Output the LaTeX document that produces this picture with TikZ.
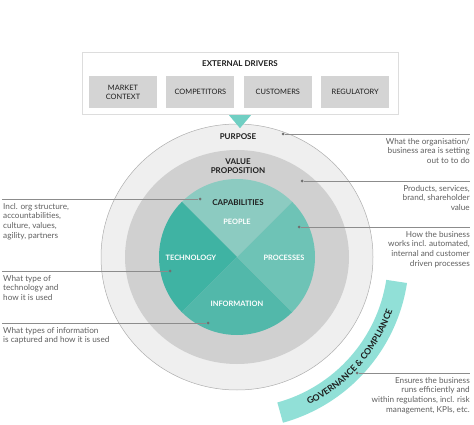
\documentclass[tikz,border=0pt]{standalone}
\usepackage{fontspec}
\setmainfont{Lato}
\definecolor{ringlight}{RGB}{239,239,239}
\definecolor{ringgrey}{RGB}{208,208,208}
\definecolor{boxgrey}{RGB}{212,212,212}
\definecolor{peopleteal}{RGB}{140,203,193}
\definecolor{processteal}{RGB}{110,195,182}
\definecolor{techteal}{RGB}{63,179,163}
\definecolor{infoteal}{RGB}{82,184,170}
\definecolor{govteal}{RGB}{145,224,215}
\definecolor{arrowteal}{RGB}{112,207,195}
\definecolor{leadgrey}{RGB}{140,140,140}
\definecolor{notegrey}{RGB}{95,95,95}
\definecolor{inkdark}{RGB}{30,30,30}
\usepackage{tikz}
\usetikzlibrary{positioning, calc, decorations.text}

\begin{document}
\begin{tikzpicture}[x=1pt, y=1pt,
  driverbox/.style={fill=boxgrey, minimum width=68pt, minimum height=32pt, inner sep=0pt, align=center, font=\fontsize{7.4}{9}\selectfont, text=inkdark},
  ringlabel/.style={font=\fontsize{8}{9.5}\selectfont\bfseries, text=inkdark, align=center, inner sep=0pt},
  quadlabel/.style={font=\fontsize{7.4}{8}\selectfont\bfseries, text=white, inner sep=0pt},
  note/.style={font=\fontsize{8.2}{9.6}\selectfont, text=notegrey, inner sep=0pt},
  notel/.style={note, anchor=north west, align=left},
  noter/.style={note, anchor=north east, align=right},
  leaddot/.style={circle, fill=leadgrey!80!black, inner sep=0pt, minimum size=3pt},
  leader/.style={draw=leadgrey, line width=0.6pt}]
  \useasboundingbox (0,0) rectangle (474,-425);

  % external drivers
  \node[draw=boxgrey!80, fill=white, minimum width=316pt, minimum height=62pt, inner sep=0pt] (drivers) at (240,-83) {};
  \node[ringlabel] (driverstitle) at (240,-64) {EXTERNAL DRIVERS};
  \node[driverbox] (market) at (123,-92) {MARKET\\CONTEXT};
  \node[driverbox, right=9pt of market] (competitors) {COMPETITORS};
  \node[driverbox, right=9pt of competitors] (customers) {CUSTOMERS};
  \node[driverbox, right=9pt of customers] (regulatory) {REGULATORY};

  % rings
  \coordinate (hub) at (237,-257);
  \fill[ringlight] (hub) ellipse [x radius=136, y radius=133];
  \draw[leadgrey!70, line width=0.5pt] (hub) ellipse [x radius=136, y radius=133];
  \fill[ringgrey] (hub) ellipse [x radius=112, y radius=107];

  % capability quadrants
  \fill[peopleteal] (hub) -- ++(45:78) arc[start angle=45, end angle=135, radius=78] -- cycle;
  \fill[techteal] (hub) -- ++(135:78) arc[start angle=135, end angle=225, radius=78] -- cycle;
  \fill[infoteal] (hub) -- ++(225:78) arc[start angle=225, end angle=315, radius=78] -- cycle;
  \fill[processteal] (hub) -- ++(-45:78) arc[start angle=-45, end angle=45, radius=78] -- cycle;

  % driver arrow
  \fill[arrowteal] ($(drivers.south)+(-11,-1)$) -- ($(drivers.south)+(11,-1)$) -- ($(drivers.south)+(0,-14)$) -- cycle;

  % governance band
  \fill[govteal] ($(hub)+(-74.5:151)$) arc[start angle=-74.5, end angle=-8.7, radius=151]
    -- ($(hub)+(-8.7:172)$) arc[start angle=-8.7, end angle=-74.5, radius=172] -- cycle;
  \path[decorate, decoration={text along path, text align=center, text color=inkdark,
    text={|\fontsize{8.8}{10}\selectfont\bfseries|GOVERNANCE {\&} COMPLIANCE}}]
    ($(hub)+(-74.5:164.5)$) arc[start angle=-74.5, end angle=-8.7, radius=164.5];

  % ring labels
  \node[ringlabel] (purpose) at (238,-137) {PURPOSE};
  \node[ringlabel] (value) at (238,-166) {VALUE\\PROPOSITION};
  \node[ringlabel] (capabilities) at (238,-203) {CAPABILITIES};
  \node[quadlabel] (people) at (237,-222) {PEOPLE};
  \node[quadlabel] (technology) at (191,-258) {TECHNOLOGY};
  \node[quadlabel] (processes) at (284,-258) {PROCESSES};
  \node[quadlabel] (information) at (237,-304) {INFORMATION};

  % right notes
  \node[leaddot] (purposedot) at (283,-134) {};
  \coordinate (purposeend) at (470,-134);
  \draw[leader] (purposedot) -- (purposeend);
  \node[noter] (purposenote) at (470,-138) {What the organisation/\\business area is setting\\out to to do};

  \node[leaddot] (valuedot) at (302,-181) {};
  \coordinate (valueend) at (470,-181);
  \draw[leader] (valuedot) -- (valueend);
  \node[noter] (valuenote) at (470,-185) {Products, services,\\brand, shareholder\\value};

  \node[leaddot] (processdot) at (299,-227) {};
  \coordinate (processend) at (470,-227);
  \draw[leader] (processdot) -- (processend);
  \node[noter] (processnote) at (470,-231) {How the business\\works incl. automated,\\internal and customer\\driven processes};

  \node[leaddot] (govdot) at (357,-373) {};
  \coordinate (govend) at (470,-373);
  \draw[leader] (govdot) -- (govend);
  \node[noter] (govnote) at (470,-377) {Ensures the business\\runs efficiently and\\within regulations, incl. risk\\management, KPIs, etc.};

  % left notes
  \node[leaddot] (capdot) at (200,-199) {};
  \coordinate (capstart) at (2,-199);
  \draw[leader] (capstart) -- (capdot);
  \node[notel] (capnote) at (3,-203) {Incl. org structure,\\accountabilities,\\culture, values,\\agility, partners};

  \node[leaddot] (techdot) at (170,-271) {};
  \coordinate (techstart) at (2,-271);
  \draw[leader] (techstart) -- (techdot);
  \node[notel] (technote) at (3,-275) {What type of\\technology and\\how it is used};

  \node[leaddot] (infodot) at (208,-323) {};
  \coordinate (infostart) at (2,-323);
  \draw[leader] (infostart) -- (infodot);
  \node[notel] (infonote) at (3,-327) {What types of information\\is captured and how it is used};
\end{tikzpicture}
\end{document}
